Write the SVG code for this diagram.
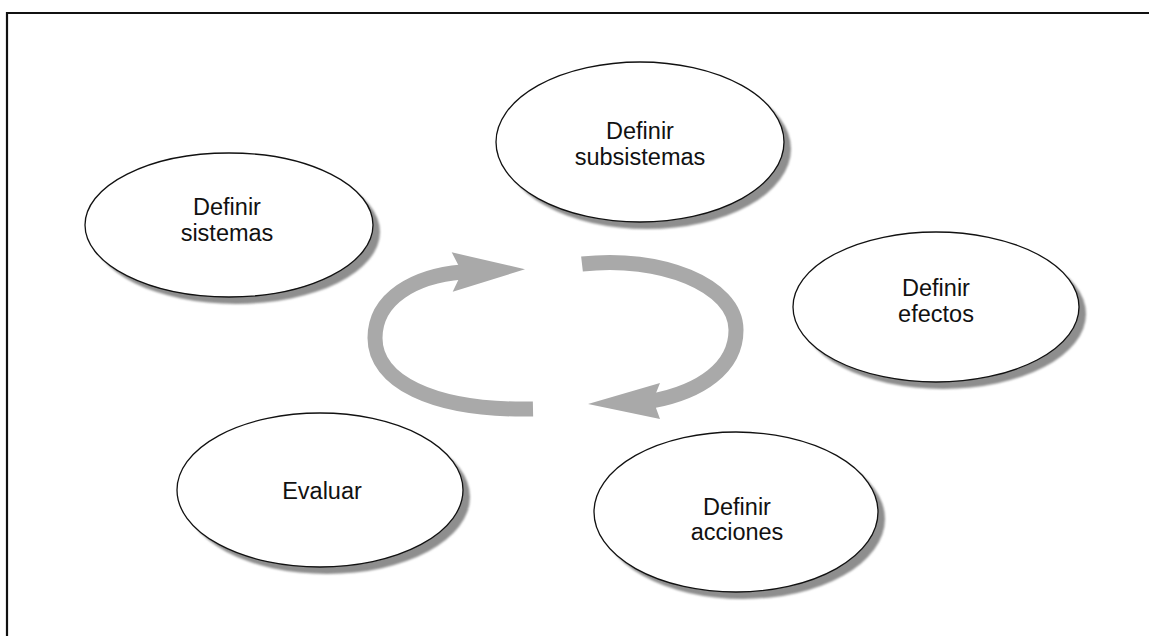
<svg xmlns="http://www.w3.org/2000/svg" width="1149" height="636" viewBox="0 0 1149 636">
<defs>
<style>
.sh{fill:#8e8e8e;}
.el{fill:#ffffff;stroke:#111111;stroke-width:1.3;}
.lbl{font-family:"Liberation Sans",Arial,sans-serif;font-size:23.5px;fill:#111111;text-anchor:middle;}
.arc{fill:none;stroke:#a9a9a9;stroke-width:15;}
.head{fill:#a9a9a9;}
</style>
<filter id="blur" x="-10%" y="-10%" width="120%" height="120%"><feGaussianBlur stdDeviation="1"/></filter>
</defs>
<rect x="0" y="0" width="1149" height="636" fill="#ffffff"/>
<path d="M7 640 L7 13 L1152 13" fill="none" stroke="#111111" stroke-width="2.2"/>
<g id="connectors">
<path class="arc" d="M533 409 C430 411,375 380,375 338 C375 298,415 276,462 272"/>
<polygon class="head" points="451.7,252.3 525,269.3 452.7,291.7 458.3,280 458.3,265"/>
<path class="arc" d="M582 264 C660 255,736 285,736 330 C736 368,700 392,652 401"/>
<polygon class="head" points="660,383 588,404 660,419 656,408 656,393"/>
</g>
<g id="node-sistemas">
<ellipse class="sh" cx="236" cy="232" rx="144" ry="72" filter="url(#blur)"/>
<ellipse class="el" cx="229" cy="225" rx="144" ry="72"/>
<text class="lbl" x="227" y="215">Definir</text>
<text class="lbl" x="227" y="241">sistemas</text>
</g>
<g id="node-subsistemas">
<ellipse class="sh" cx="647" cy="149" rx="144" ry="80" filter="url(#blur)"/>
<ellipse class="el" cx="640" cy="142" rx="144" ry="80"/>
<text class="lbl" x="640" y="139">Definir</text>
<text class="lbl" x="640" y="165">subsistemas</text>
</g>
<g id="node-efectos">
<ellipse class="sh" cx="943" cy="314" rx="143" ry="75" filter="url(#blur)"/>
<ellipse class="el" cx="936" cy="307" rx="143" ry="75"/>
<text class="lbl" x="936" y="296">Definir</text>
<text class="lbl" x="936" y="322">efectos</text>
</g>
<g id="node-evaluar">
<ellipse class="sh" cx="327" cy="497" rx="143" ry="77" filter="url(#blur)"/>
<ellipse class="el" cx="320" cy="490" rx="143" ry="77"/>
<text class="lbl" x="322" y="499">Evaluar</text>
</g>
<g id="node-acciones">
<ellipse class="sh" cx="743" cy="519" rx="142" ry="80" filter="url(#blur)"/>
<ellipse class="el" cx="736" cy="512" rx="142" ry="80"/>
<text class="lbl" x="737" y="515">Definir</text>
<text class="lbl" x="737" y="540">acciones</text>
</g>
</svg>
